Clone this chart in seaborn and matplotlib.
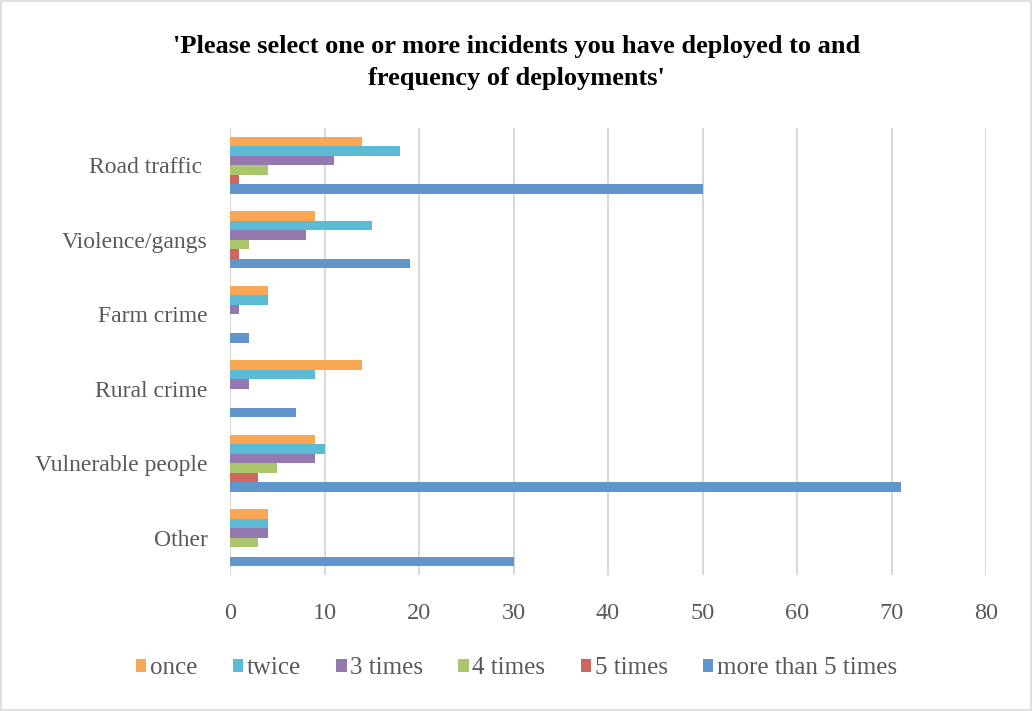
import matplotlib
matplotlib.use("Agg")
import matplotlib.pyplot as plt
import seaborn as sns
import pandas as pd
from matplotlib.patches import Rectangle

categories = ["Road traffic ", "Violence/gangs", "Farm crime", "Rural crime", "Vulnerable people", "Other"]
series = ["once", "twice", "3 times", "4 times", "5 times", "more than 5 times"]
once = [14, 9, 4, 14, 9, 4]
twice = [18, 15, 4, 9, 10, 4]
three_times = [11, 8, 1, 2, 9, 4]
four_times = [4, 2, 0, 0, 5, 3]
five_times = [1, 1, 0, 0, 3, 0]
more_than_five = [50, 19, 2, 7, 71, 30]
x_ticks = [0, 10, 20, 30, 40, 50, 60, 70, 80]

colors = ["#FAA755", "#5BBAD4", "#9479B0", "#AAC56A", "#CE6660", "#6096CB"]

values = [once, twice, three_times, four_times, five_times, more_than_five]
rows = []
for s, vals in zip(series, values):
    for c, v in zip(categories, vals):
        rows.append({"category": c, "series": s, "value": v})
df = pd.DataFrame(rows)

sns.set_style("white")
plt.rcParams["font.family"] = ["Liberation Serif", "DejaVu Serif"]

fig = plt.figure(figsize=(10.33, 7.11), dpi=100)
ax = fig.add_axes([0.2227, 0.1913, 0.7318, 0.6287])

sns.barplot(data=df, y="category", x="value", hue="series", order=categories,
            hue_order=series, palette=colors, orient="h", width=0.765,
            saturation=1, ax=ax, legend=True, edgecolor="none")

ax.set_xlim(0, 80)
ax.set_xticks(x_ticks)
ax.set_xticklabels([str(t) for t in x_ticks])
ax.set_ylim(5.5, -0.5)
ax.grid(axis="x", color="#D9D9D9", linewidth=1.5)
ax.set_axisbelow(True)
for sp in ax.spines.values():
    sp.set_visible(False)
ax.set_xlabel("")
ax.set_ylabel("")
ax.tick_params(axis="y", length=0, labelsize=17, labelcolor="#595959", pad=16)
ax.tick_params(axis="x", length=0, labelsize=17.5, labelcolor="#595959", pad=20)

handles, labels = ax.get_legend_handles_labels()
ax.legend_.remove()
leg = fig.legend(handles, labels, loc="center", bbox_to_anchor=(0.5, 0.06), ncol=6,
                 frameon=False, fontsize=18, handlelength=0.42, handleheight=0.42,
                 handletextpad=0.15, columnspacing=1.4)
for t in leg.get_texts():
    t.set_color("#595959")

fig.text(0.5, 0.912, "'Please select one or more incidents you have deployed to and\nfrequency of deployments'",
         ha="center", va="center", fontsize=19, fontweight="bold", linespacing=1.5,
         color="black")

fig.patches.append(Rectangle((0.001, 0.001), 0.997, 0.997, transform=fig.transFigure,
                             fill=False, edgecolor="#D9D9D9", linewidth=1.2))

fig.savefig("out.png", dpi=100)
